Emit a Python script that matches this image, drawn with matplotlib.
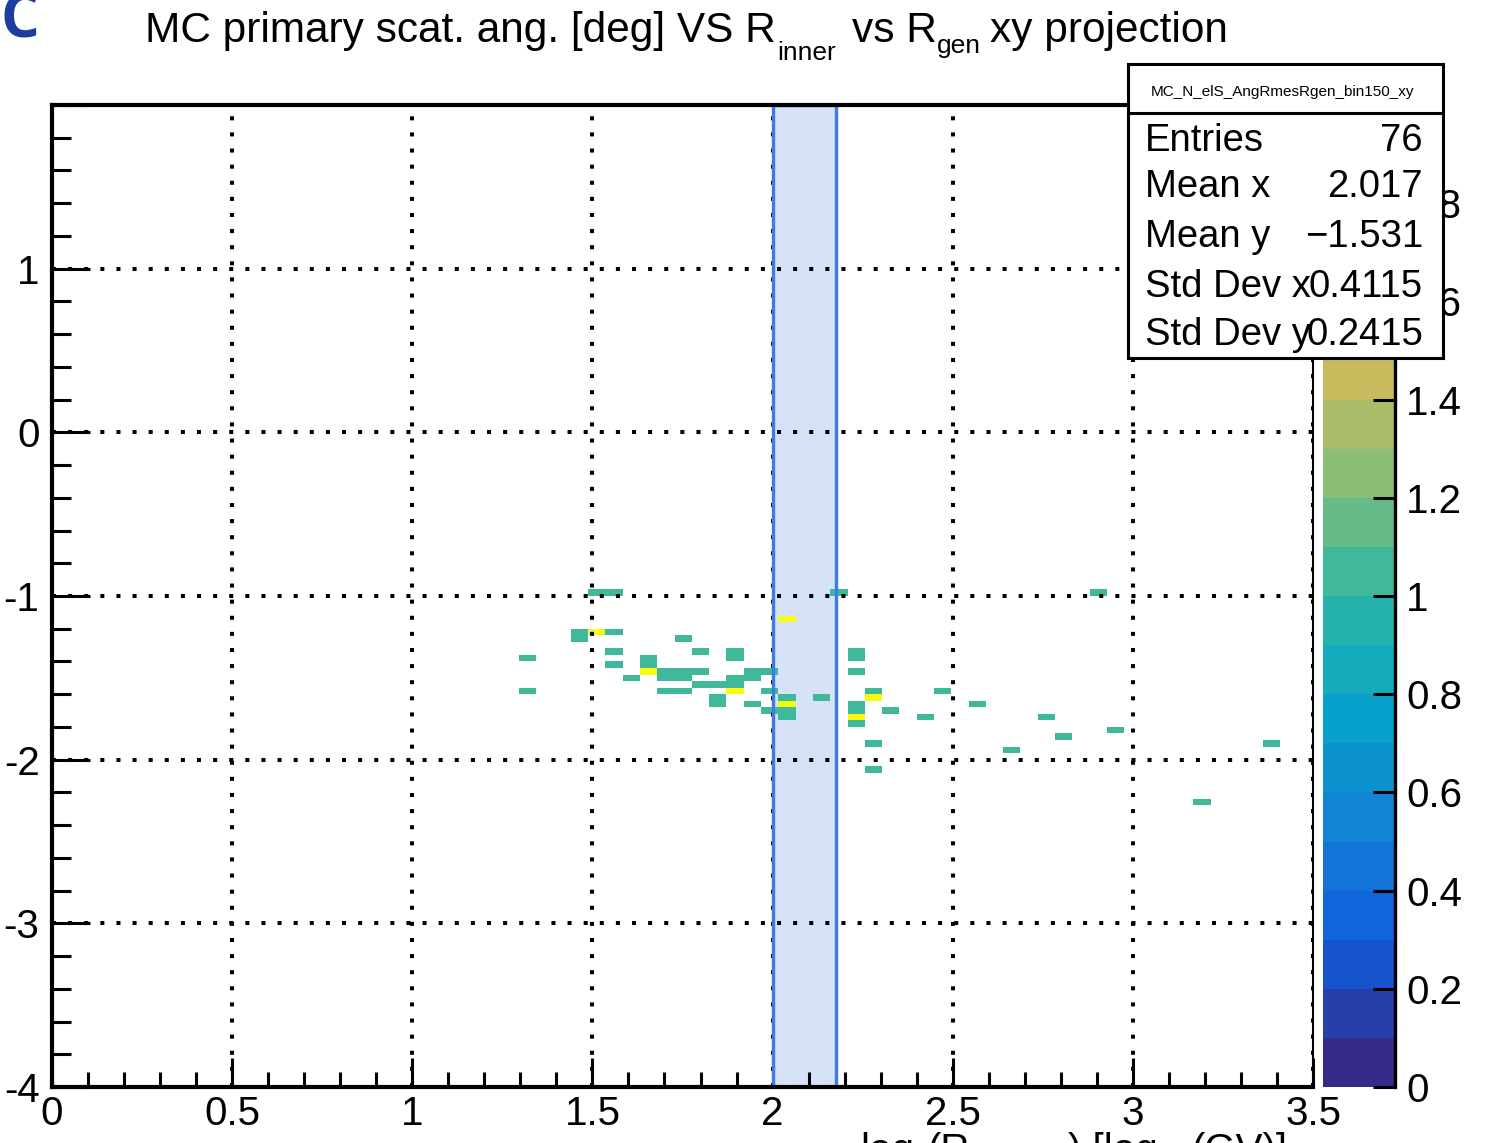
import matplotlib
matplotlib.use("Agg")
import matplotlib.pyplot as plt
import numpy as np
from matplotlib.colors import LinearSegmentedColormap, BoundaryNorm
from matplotlib.ticker import MultipleLocator

W, H = 1491, 1143

# bin centres (x: log10 Rgen, y: scatt. angle) and bin contents
cell_x = [1.320, 1.320, 1.464, 1.464, 1.512, 1.560, 1.512, 1.560, 1.752, 1.560,
          1.800, 1.656, 1.896, 1.896, 1.560, 1.656, 2.232, 2.232, 2.232, 1.704,
          1.800, 1.944, 1.944, 1.992, 1.608, 1.656, 1.704, 1.752, 1.752, 1.896,
          1.896, 1.896, 1.800, 1.848, 1.704, 1.752, 1.848, 1.848, 1.944, 1.992,
          1.992, 2.040, 2.040, 2.040, 2.040, 2.040, 2.136, 2.280, 2.280, 2.328,
          2.232, 2.232, 2.232, 2.232, 2.280, 2.280, 2.184, 2.904, 2.472, 2.568,
          2.424, 2.760, 2.808, 2.952, 2.664, 3.384, 3.192]
cell_y = [-1.38, -1.58, -1.22, -1.26, -1.22, -1.22, -0.98, -0.98, -1.26, -1.34,
          -1.34, -1.38, -1.34, -1.38, -1.42, -1.42, -1.34, -1.38, -1.46, -1.46,
          -1.46, -1.46, -1.50, -1.46, -1.50, -1.46, -1.50, -1.46, -1.50, -1.50,
          -1.54, -1.58, -1.54, -1.54, -1.58, -1.58, -1.62, -1.66, -1.66, -1.58,
          -1.70, -1.62, -1.66, -1.70, -1.74, -1.14, -1.62, -1.58, -1.62, -1.70,
          -1.66, -1.70, -1.74, -1.78, -1.90, -2.06, -0.98, -0.98, -1.58, -1.66,
          -1.74, -1.74, -1.86, -1.82, -1.94, -1.90, -2.26]
cell_n = [1, 1, 1, 1, 2, 1, 1, 1, 1, 1,
          1, 1, 1, 1, 1, 1, 1, 1, 1, 1,
          1, 1, 1, 1, 1, 2, 1, 1, 1, 1,
          1, 2, 1, 1, 1, 1, 1, 1, 1, 1,
          1, 1, 2, 1, 1, 2, 1, 1, 2, 1,
          1, 1, 2, 1, 1, 1, 1, 1, 1, 1,
          1, 1, 1, 1, 1, 1, 1]

x_ticks = [0, 0.5, 1, 1.5, 2, 2.5, 3, 3.5]
x_ticklabels = ["0", "0.5", "1", "1.5", "2", "2.5", "3", "3.5"]
y_ticks = [-4, -3, -2, -1, 0, 1, 2]
y_ticklabels = ["-4", "-3", "-2", "-1", "0", "1", ""]
z_ticks = [0, 0.2, 0.4, 0.6, 0.8, 1.0, 1.2, 1.4, 1.6, 1.8]
z_ticklabels = ["0", "0.2", "0.4", "0.6", "0.8", "1", "1.2", "1.4", "1.6", "1.8"]

stat_names = ["Entries", "Mean x", "Mean y", "Std Dev x", "Std Dev y"]
stat_values = ["76", "2.017", "\u22121.531", "0.4115", "0.2415"]
hist_name = "MC_N_elS_AngRmesRgen_bin150_xy"

band_lo, band_hi = 2.0, 2.175

# ROOT kBird palette
bird_stops = [0.0, 0.125, 0.25, 0.375, 0.5, 0.625, 0.75, 0.875, 1.0]
bird_rgb = [(0.2082, 0.1664, 0.5293), (0.0592, 0.3599, 0.8684),
            (0.0780, 0.5041, 0.8385), (0.0232, 0.6419, 0.7914),
            (0.1802, 0.7178, 0.6425), (0.5301, 0.7492, 0.4662),
            (0.8186, 0.7328, 0.3499), (0.9956, 0.7862, 0.1968),
            (0.9764, 0.9832, 0.0539)]
bird = LinearSegmentedColormap.from_list("bird", list(zip(bird_stops, bird_rgb)))

plt.rcParams["font.family"] = "Liberation Sans"
plt.rcParams["axes.unicode_minus"] = False


def px_rect(x0, y0, x1, y1):
    return [x0 / W, 1 - y1 / H, (x1 - x0) / W, (y1 - y0) / H]


fig = plt.figure(figsize=(W / 100, H / 100), dpi=100)
ax = fig.add_axes(px_rect(52, 105, 1313, 1087))

xedges = np.linspace(-3.6, 3.6, 151)
yedges = np.linspace(-4, 2, 151)
counts, _, _ = np.histogram2d(cell_x, cell_y, bins=[xedges, yedges], weights=cell_n)
counts = np.ma.masked_equal(counts.T, 0)

levels = np.linspace(0, 2, 21)
norm = BoundaryNorm(levels, bird.N)
mesh = ax.pcolormesh(xedges, yedges, counts, cmap=bird, norm=norm, zorder=1)

# selected Rgen slice: fill under the bins, outline on top
ax.axvspan(band_lo, band_hi, facecolor="#d6e2f8", edgecolor="none", zorder=0.5)
ax.axvspan(band_lo, band_hi, facecolor="none", edgecolor="#3f7be6",
           linewidth=2.4, zorder=2)

ax.set_xlim(0, 3.5)
ax.set_ylim(-4, 2)
ax.set_xticks(x_ticks)
ax.set_xticklabels(x_ticklabels)
ax.set_yticks(y_ticks)
ax.set_yticklabels(y_ticklabels)
ax.xaxis.set_minor_locator(MultipleLocator(0.1))
ax.yaxis.set_minor_locator(MultipleLocator(0.2))
ax.tick_params(which="both", direction="in", top=False, right=False,
               width=2.2, labelsize=29)
ax.tick_params(axis="x", which="major", length=21, pad=6)
ax.tick_params(axis="x", which="minor", length=11)
ax.tick_params(axis="y", which="major", length=27, pad=9)
ax.tick_params(axis="y", which="minor", length=14)
ax.grid(True, which="major", color="k", linestyle=(0, (1, 3)), linewidth=2.9)
for side in ["left", "bottom", "top"]:
    ax.spines[side].set_linewidth(3)
ax.spines["right"].set_linewidth(1.5)

# x title, cut by the bottom edge as in the screenshot (subscripts fall below it)
xtitle_parts = [(860, "log", 29), (906, "10", 20), (928, "(R", 29),
                (990, "gen", 20), (1068, ") [log", 29), (1160, "10", 20),
                (1192, "(GV)]", 29)]
for tx, s, fs in xtitle_parts:
    ty = 1162 if fs > 25 else 1174
    fig.text(tx / W, 1 - ty / H, s, fontsize=fs, ha="left", va="baseline")

# colour scale
cax = fig.add_axes(px_rect(1323, 105, 1395, 1087))
cb = fig.colorbar(mesh, cax=cax, ticks=z_ticks)
cb.set_ticklabels(z_ticklabels)
cb.outline.set_visible(False)
cax.minorticks_off()
cax.tick_params(direction="in", length=16, width=2.2, labelsize=29, pad=8)
cax.plot([1, 1], [0, 1], transform=cax.transAxes, color="k", lw=2.4,
         clip_on=False)

# title, pieced like the ROOT latex
title_parts = [(145, 42, "MC primary scat. ang. [deg] VS R", 30.5),
               (777, 60, "inner", 19),
               (852, 42, "vs R", 30.5),
               (937, 53, "gen", 19),
               (990, 42, "xy projection", 30.5)]
for tx, ty, s, fs in title_parts:
    fig.text(tx / W, 1 - ty / H, s, fontsize=fs, ha="left", va="baseline")

fig.text(0 / W, 1 - 37 / H, "C", color="#1c3f9e", fontsize=44,
         fontweight="bold", family="Open Sans", ha="left", va="baseline")

# stats box
sax = fig.add_axes(px_rect(1128, 64, 1443, 358), zorder=10)
sax.set_xlim(1128, 1443)
sax.set_ylim(358, 64)
sax.set_xticks([])
sax.set_yticks([])
for sp in sax.spines.values():
    sp.set_linewidth(2.2)
sax.plot([1128, 1443], [113, 113], color="k", lw=2.2)
sax.text(1283, 92, hist_name, fontsize=11, ha="center", va="center")
for yb, name, val in zip([151, 197, 247, 297, 345], stat_names, stat_values):
    sax.text(1145, yb, name, fontsize=27.5, ha="left", va="baseline")
    sax.text(1423, yb, val, fontsize=27.5, ha="right", va="baseline")

fig.savefig("out.png", dpi=100, facecolor="white")
